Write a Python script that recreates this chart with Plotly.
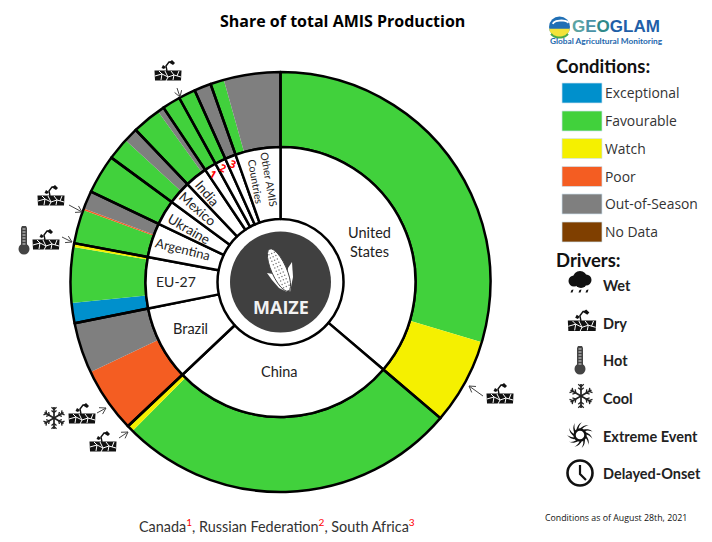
import math
import plotly.graph_objects as go

W, H = 712, 542
CX, CY = 280.5, 282.0
R_OUT, R_MID, R_IN, R_CORE = 210.0, 135.0, 63.0, 50.5

segment_country = ["United States", "United States", "China", "China", "Brazil", "Brazil",
                   "EU-27", "EU-27", "EU-27", "Argentina", "Argentina", "Argentina", "Ukraine",
                   "Mexico", "Mexico", "India", "India", "Canada", "Russian Federation",
                   "South Africa", "Other AMIS Countries", "Other AMIS Countries"]
segment_condition = ["Favourable", "Watch", "Favourable", "Watch", "Poor", "Out-of-Season",
                     "Exceptional", "Favourable", "Watch", "Favourable", "Poor", "Out-of-Season",
                     "Favourable", "Favourable", "Out-of-Season", "Favourable", "Out-of-Season",
                     "Favourable", "Favourable", "Out-of-Season", "Favourable", "Out-of-Season"]
segment_share = [29.6, 6.6, 26.2, 0.5, 5.0, 3.9, 1.55, 4.25, 0.3, 2.6, 0.12, 1.4, 3.0,
                 1.7, 1.1, 2.2, 0.5, 1.4, 1.3, 1.3, 1.05, 4.35]

condition_names = ["Exceptional", "Favourable", "Watch", "Poor", "Out-of-Season", "No Data"]
condition_colors = ["#0090cc", "#41d13c", "#f5f000", "#f45d22", "#7f7f7f", "#7f3f00"]
driver_names = ["Wet", "Dry", "Hot", "Cool", "Extreme Event", "Delayed-Onset"]

countries = list(dict.fromkeys(segment_country))
country_share = [sum(v for c, v in zip(segment_country, segment_share) if c == k) for k in countries]
cmap = dict(zip(condition_names, condition_colors))


def dom(r):
    return dict(x=[(CX - r) / W, (CX + r) / W], y=[1 - (CY + r) / H, 1 - (CY - r) / H])


common = dict(sort=False, direction="clockwise", rotation=0, textinfo="none", hoverinfo="label+value",
              showlegend=False)
fig = go.Figure()
fig.add_trace(go.Pie(labels=[f"{c} {k}" for c, k in zip(segment_country, segment_condition)],
                     values=segment_share, domain=dom(R_OUT), hole=R_MID / R_OUT,
                     marker=dict(colors=[cmap[k] for k in segment_condition], line=dict(width=0)),
                     **common))
fig.add_trace(go.Pie(labels=countries, values=country_share, domain=dom(R_OUT), hole=R_MID / R_OUT,
                     marker=dict(colors=["rgba(0,0,0,0)"] * len(countries), line=dict(color="#000", width=2.5)),
                     **common))
fig.add_trace(go.Pie(labels=countries, values=country_share, domain=dom(R_MID), hole=R_IN / R_MID,
                     marker=dict(colors=["#ffffff"] * len(countries), line=dict(color="#000", width=2.5)),
                     **common))

shapes, ann = [], []


def px(x, y):
    return f"{x / W:.5f} {1 - y / H:.5f}"


def path(points, close=False, fill=None, line=None, width=1.0):
    d = "M" + " L".join(px(*p) for p in points) + (" Z" if close else "")
    shapes.append(dict(type="path", xref="paper", yref="paper", path=d, layer="above",
                       fillcolor=fill if fill else "rgba(0,0,0,0)",
                       line=dict(color=line if line else "rgba(0,0,0,0)", width=width if line else 0)))


def circle(x, y, r, fill=None, line=None, width=1.0, ry=None):
    ry = ry if ry else r
    shapes.append(dict(type="circle", xref="paper", yref="paper", layer="above",
                       x0=(x - r) / W, x1=(x + r) / W, y0=1 - (y + ry) / H, y1=1 - (y - ry) / H,
                       fillcolor=fill if fill else "rgba(0,0,0,0)",
                       line=dict(color=line if line else "rgba(0,0,0,0)", width=width if line else 0)))


def text(x, y, s, size=13, color="#222", font="Lato", angle=0, anchor="center"):
    ann.append(dict(xref="paper", yref="paper", x=x / W, y=1 - y / H, text=s, showarrow=False,
                    xanchor=anchor, yanchor="middle", textangle=angle, align="center",
                    font=dict(family=font, size=size, color=color), borderpad=0, borderwidth=0))


def arc(x, y, rx, ry, a0, a1, n=12, rot=0):
    out = []
    for i in range(n + 1):
        a = math.radians(a0 + (a1 - a0) * i / n)
        px_, py_ = rx * math.cos(a), ry * math.sin(a)
        c, s = math.cos(math.radians(rot)), math.sin(math.radians(rot))
        out.append((x + px_ * c - py_ * s, y + px_ * s + py_ * c))
    return out


def dry(cx, cy, k=1.0):
    path([(cx - 13.5 * k, cy - .5 * k), (cx + 13.5 * k, cy - .5 * k), (cx + 13 * k, cy + 9.5 * k), (cx - 13 * k, cy + 9.5 * k)],
         True, fill="#111")
    for pts in ([(-13, 5), (-6, 3), (0, 6), (6, 4), (13, 6)], [(-7, 9), (-6, 3), (-9, 0)], [(0, 6), (-2, 10)],
                [(3, 0), (6, 4), (5, 9)], [(-3, 0), (0, 6)], [(9, 5), (11, 0)]):
        path([(cx + a * k, cy + b * k) for a, b in pts], line="#fff", width=1.0)
    path([(cx - 1 * k, cy), (cx - 2 * k, cy - 5 * k), (cx + 1 * k, cy - 9 * k), (cx + 4 * k, cy - 9 * k)], line="#111", width=1.4)
    path([(cx + 1 * k, cy - 8.5 * k), (cx + 4 * k, cy - 11 * k), (cx + 7 * k, cy - 8 * k), (cx + 5 * k, cy - 6 * k)], True, fill="#111")
    path([(cx - 2 * k, cy - 4 * k), (cx - 5 * k, cy - 6 * k), (cx - 6.5 * k, cy - 3 * k), (cx - 4 * k, cy - 2 * k)], True, fill="#111")


def thermo(cx, cy):
    path([(cx - 3, cy - 12), (cx - 2, cy - 14), (cx + 2, cy - 14), (cx + 3, cy - 12), (cx + 3, cy + 6), (cx - 3, cy + 6)], True, fill="#444", )
    circle(cx, cy + 9, 5.5, fill="#444")
    for i in range(6):
        path([(cx - 1.5, cy - 11 + i * 3), (cx + 1.5, cy - 11 + i * 3)], line="#ddd", width=1)


def snow(cx, cy, r=12):
    for i in range(6):
        a = math.radians(60 * i + 90)
        c, s = math.cos(a), math.sin(a)
        path([(cx, cy), (cx + r * c, cy + r * s)], line="#222", width=1.7)
        for f in (.5, .78):
            for d in (-50, 50):
                b = a + math.radians(d)
                l = r * .3
                bx, by = cx + r * f * c, cy + r * f * s
                path([(bx, by), (bx + l * math.cos(b), by + l * math.sin(b))], line="#222", width=1.3)


def cyclone(cx, cy, r=13):
    circle(cx, cy, 5.5, line="#111", width=2.5)
    for i in range(11):
        t0 = 360 / 11 * i
        pts_out = [(cx + (5 + (r - 5) * u) * math.cos(math.radians(t0 + 50 * u)),
                    cy + (5 + (r - 5) * u) * math.sin(math.radians(t0 + 50 * u))) for u in (0, .3, .6, .8, 1)]
        pts_in = [(cx + (5 + (r - 5) * u) * math.cos(math.radians(t0 + 22 + 28 * u)),
                   cy + (5 + (r - 5) * u) * math.sin(math.radians(t0 + 22 + 28 * u))) for u in (.8, .5, .2, 0)]
        path(pts_out + pts_in, True, fill="#111")


def clock(cx, cy, r=12.5):
    circle(cx, cy, r, fill="#fff", line="#111", width=2.6)
    path([(cx, cy - 8), (cx, cy + 1), (cx + 6, cy + 7)], line="#111", width=2.2)


def cloud(cx, cy):
    for dx, dy, r in ((-6, 0, 5.5), (0, -3, 7), (6, -1, 5.5), (1, 1, 6)):
        circle(cx + dx, cy + dy, r, fill="#111")
    for dx in (-8, 0, 7):
        path([(cx + dx + 1.5, cy + 8.5), (cx + dx + .5, cy + 11.5), (cx + dx - 1.5, cy + 11.5), (cx + dx - .5, cy + 9)], True, fill="#111")


def arrow(x0, y0, x1, y1):
    path([(x0, y0), (x1, y1)], line="#444", width=1)
    a = math.atan2(y0 - y1, x0 - x1)
    for d in (-.55, .55):
        path([(x1, y1), (x1 + 7 * math.cos(a + d), y1 + 7 * math.sin(a + d))], line="#444", width=1)


# centre badge
circle(CX, CY, R_CORE, fill="#404040")
EX, EY, TILT = 279.0, 270.0, -24
path([(267, 273), (273, 274), (281, 280), (287, 292), (279, 288), (272, 280)], True, fill="#fff")
path([(292, 262), (288, 268), (287, 280), (290, 292), (293, 277)], True, fill="#fff")
path(arc(EX, EY, 7.5, 23, 0, 360, 24, rot=TILT), True, fill="#ffffff", line="#404040", width=1)
for i in range(-5, 6):
    for j in range(-1, 2):
        t = math.radians(TILT)
        u, v = j * 3.0, i * 3.6
        circle(EX + u * math.cos(t) - v * math.sin(t), EY + u * math.sin(t) + v * math.cos(t), .75, fill="#777")
text(280.5, 307, "<b>MAIZE</b>", size=18, color="#f2f2f2", font="Open Sans")

# country labels
text(369, 242, "United<br>States", 14.5)
text(279, 371, "China", 14.5)
text(190, 328, "Brazil", 14.5)
text(176, 281, "EU-27", 14)
text(183, 249, "Argentina", 13, angle=14)
text(189, 229, "Ukraine", 13.5, angle=30)
text(198, 209, "Mexico", 13.5, angle=41)
text(207, 193, "India", 13.5, angle=50)
text(262, 180, "Other AMIS<br>Countries", 10.5, angle=80)
text(213, 174, "<b>1</b>", 10.5, color="#ff0000", font="Open Sans", angle=30)
text(223, 168, "<b>2</b>", 10.5, color="#ff0000", font="Open Sans", angle=25)
text(233, 164, "<b>3</b>", 10.5, color="#ff0000", font="Open Sans", angle=20)

# title & footers
text(342, 21, "<b>Share of total AMIS Production</b>", 16, color="#000", font="Open Sans")
red = '<span style="color:#ff0000"><sup>%s</sup></span>'
text(277, 525, f"Canada{red % 1}, Russian Federation{red % 2}, South Africa{red % 3}", 14.4, color="#333")
text(615.5, 518, "Conditions as of August 28th, 2021", 8.8, color="#111", font="Open Sans")

# logo
circle(559.5, 27, 10.5, fill="#1f6fb5")
path(arc(559.5, 27, 10.5, 10.5, 10, 170), True, fill="#f3e33a")
path(arc(559.5, 32, 9, 5.5, 20, 160), False, line="#4aa84a", width=2)
path(arc(561, 24, 8, 3.5, 180, 340), False, line="#ffffff", width=1.8)
text(572, 27, '<b><span style="color:#5ba3a3">G</span><span style="color:#4a93a8">E</span>'
     '<span style="color:#2f8a8a">O</span><span style="color:#1f5fa8">GLAM</span></b>',
     17, color="#1f5fa8", font="Liberation Sans", anchor="left")
text(550, 41, "<b>Global Agricultural Monitoring</b>", 8.3, color="#2367ad", font="Lato", anchor="left")

# conditions legend
text(556, 66, "<b>Conditions:</b>", 18.5, color="#111", anchor="left")
swatch_y = [93, 121, 148.5, 176.5, 204, 232]
for name, col, y in zip(condition_names, condition_colors, swatch_y):
    path([(562, y - 10), (602, y - 10), (602, y + 10), (562, y + 10)], True, fill=col, line="#cfe3ef", width=.7)
    text(605, y - .5, name, 13.9, color="#333", font="Open Sans", anchor="left")

# drivers legend
text(556, 260, "<b>Drivers:</b>", 18.5, color="#111", anchor="left")
driver_y = [285, 323, 360, 398, 436, 473]
for name, y in zip(driver_names, driver_y):
    text(603, y, f"<b>{name}</b>", 14.5, color="#222", anchor="left")
cloud(580, 281)
dry(582, 321, 1.05)
thermo(580, 360)
snow(581, 396)
cyclone(580, 435)
clock(580, 473)

# chart driver markers
dry(168, 71)
arrow(177, 88, 180, 97)
dry(51, 196)
arrow(69, 205, 82, 212)
thermo(24, 240)
dry(46, 240)
arrow(62, 237, 72, 242)
snow(54, 418, 11)
dry(82, 414)
arrow(97, 413, 106, 408)
dry(103, 442)
arrow(119, 438, 128, 432)
dry(500, 394)
arrow(483, 396, 469, 386)

fig.update_layout(width=W, height=H, margin=dict(l=0, r=0, t=0, b=0), paper_bgcolor="#fff",
                  plot_bgcolor="#fff", shapes=shapes, annotations=ann, showlegend=False)
fig.write_html("out.html", config=dict(displayModeBar=False),
               post_script="document.body.style.margin='0';document.documentElement.style.overflow='hidden';")
